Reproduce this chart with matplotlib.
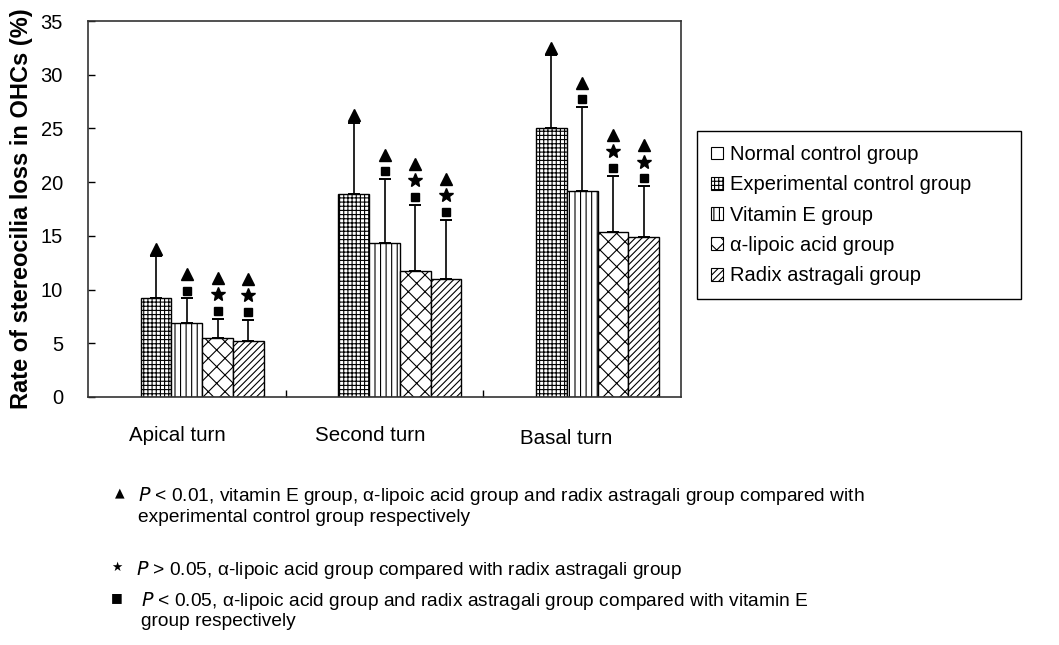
import matplotlib.pyplot as plt
import numpy as np
from matplotlib.patches import Patch
from matplotlib.transforms import offset_copy

plt.rcParams['font.family'] = ['Liberation Sans', 'DejaVu Sans']
plt.rcParams['hatch.linewidth'] = 0.8

categories = ['Apical turn', 'Second turn', 'Basal turn']
groups = ['Normal control group', 'Experimental control group', 'Vitamin E group',
          'α-lipoic acid group', 'Radix astragali group']

normal = [0, 0, 0]
experimental = [9.2, 18.9, 25.0]
vitamin_e = [6.9, 14.3, 19.2]
lipoic = [5.5, 11.7, 15.4]
radix = [5.2, 11.0, 14.9]

normal_sd = [0, 0, 0]
experimental_sd = [3.9, 6.6, 6.8]
vitamin_e_sd = [2.3, 6.0, 7.8]
lipoic_sd = [1.8, 6.2, 5.2]
radix_sd = [2.0, 5.5, 4.75]

# significance marks, from the cap upwards
marks = [[], ['^'], ['s', '^'], ['s', '*', '^'], ['s', '*', '^']]

means = [normal, experimental, vitamin_e, lipoic, radix]
sds = [normal_sd, experimental_sd, vitamin_e_sd, lipoic_sd, radix_sd]
hatches = ['', '++++', '|||', 'xx', '/////']

fig = plt.figure(figsize=(10.59, 6.45), dpi=100)
ax = fig.add_axes([0.0831, 0.3845, 0.5600, 0.5829])

x = np.arange(len(categories))
w = 0.1555
for j in range(len(groups)):
    xs = x + (j - 2) * w
    if j > 0:
        ax.bar(xs, means[j], w, color='white', edgecolor='black', linewidth=1.0,
               hatch=hatches[j], zorder=2)
        ax.errorbar(xs, means[j], yerr=[np.zeros(3), sds[j]], fmt='none',
                    ecolor='black', elinewidth=1.2, capsize=4.3, capthick=1.4, zorder=3)
    tops = np.array(means[j]) + np.array(sds[j])
    for k, m in enumerate(marks[j]):
        tr = offset_copy(ax.transData, fig=fig, y=5.5 + 12 * k, units='points')
        size = {'^': 8.5, 's': 6, '*': 10}[m]
        ax.plot(xs, tops, linestyle='none', marker=m, markersize=size,
                color='black', transform=tr, clip_on=False, zorder=4)

ax.set_xlim(-0.5, 2.5)
ax.set_ylim(0, 35)
ax.set_yticks(np.arange(0, 36, 5))
ax.tick_params(axis='y', direction='in', length=5, width=1, labelsize=14.5, pad=18)
ax.set_xticks([0.5, 1.5])
ax.set_xticklabels([])
ax.tick_params(axis='x', direction='in', length=5, width=1)
label_dx = [-0.05, -0.07, -0.08]
label_y = [-3.55, -3.55, -3.85]
for i, c in enumerate(categories):
    ax.text(i + label_dx[i], label_y[i], c, ha='center', va='center', fontsize=14.8)
for s in ax.spines.values():
    s.set_linewidth(1.2)
    s.set_color('#333333')

ax.set_ylabel('Rate of stereocilia loss in OHCs (%)', fontsize=17, fontweight='bold')
ax.yaxis.set_label_coords((33 - 88) / 593, 0.5)

handles = [Patch(facecolor='white', edgecolor='black', linewidth=0.8, hatch=h)
           for h in hatches]
leg = fig.legend(handles, groups, loc='upper left',
                 bbox_to_anchor=(697 / 1059, 1 - 131 / 645 - 0.01, 324 / 1059, 0.01),
                 mode='expand', fontsize=14.5, frameon=True, fancybox=False,
                 edgecolor='black', framealpha=1, handlelength=0.6, handleheight=0.6,
                 handletextpad=0.35, labelspacing=0.56, borderpad=0.7, borderaxespad=0)
leg.get_frame().set_linewidth(1.0)

notes = [
    ('▲', 120, 496, r'$\it{P}$ < 0.01, vitamin E group, α-lipoic acid group and radix astragali group compared with'),
    ('', 120, 517, 'experimental control group respectively'),
    ('★', 117, 570, r'$\it{P}$ > 0.05, α-lipoic acid group compared with radix astragali group'),
    ('■', 117, 601, r'$\it{P}$ < 0.05, α-lipoic acid group and radix astragali group compared with vitamin E'),
    ('', 123, 622, 'group respectively'),
]
text_x = [138, 138, 136, 141, 141]
for (sym, px, py, txt), tx in zip(notes, text_x):
    if sym:
        fig.text(px / 1059, 1 - (py - 3) / 645, sym, fontsize=9, family='DejaVu Sans',
                 ha='center', va='center')
    fig.text(tx / 1059, 1 - py / 645, txt, fontsize=13.8, ha='left', va='center')

fig.savefig('out.png', dpi=100)
